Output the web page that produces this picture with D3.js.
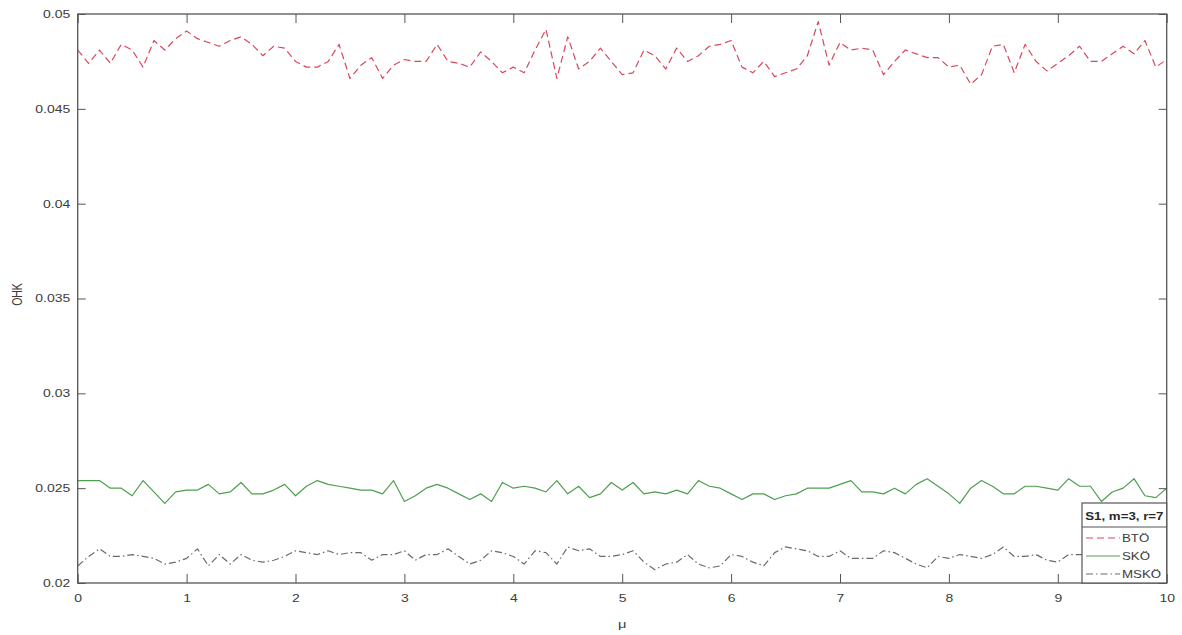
<!DOCTYPE html>
<html>
<head>
<meta charset="utf-8">
<script src="https://cdn.jsdelivr.net/npm/d3@7"></script>
<style>
  html, body { margin: 0; padding: 0; background: #fff; }
  svg { display: block; font-family: "Liberation Sans", Arial, sans-serif; }
</style>
</head>
<body>
<svg id="chart" width="1182" height="635"></svg>
<script>
// μ sampled from 0 to 10 in steps of 0.1
const mu = d3.range(101).map(i => i / 10);

const btoValues = [
  0.0481,0.0474,0.0481,0.0474,0.0484,0.0481,0.0472,0.0486,0.0481,0.0487,
  0.0491,0.0487,0.0485,0.0483,0.0486,0.0488,0.0484,0.0478,0.0483,0.0482,
  0.0475,0.0472,0.0472,0.0475,0.0484,0.0466,0.0473,0.0477,0.0466,0.0473,
  0.0476,0.0475,0.0475,0.0484,0.0475,0.0474,0.0472,0.0480,0.0475,0.0469,
  0.0472,0.0469,0.0481,0.0492,0.0466,0.0488,0.0471,0.0475,0.0482,0.0475,
  0.0468,0.0469,0.0481,0.0478,0.0471,0.0482,0.0475,0.0478,0.0483,0.0484,
  0.0486,0.0472,0.0469,0.0475,0.0467,0.0469,0.0471,0.0478,0.0496,0.0473,
  0.0485,0.0481,0.0482,0.0481,0.0468,0.0475,0.0481,0.0479,0.0477,0.0477,
  0.0472,0.0473,0.0463,0.0468,0.0483,0.0484,0.0469,0.0484,0.0475,0.0470,
  0.0474,0.0478,0.0483,0.0475,0.0475,0.0479,0.0483,0.0479,0.0486,0.0472,
  0.0476
];

const skoValues = [
  0.0254,0.0254,0.0254,0.0250,0.0250,0.0246,0.0254,0.0248,0.0242,0.0248,
  0.0249,0.0249,0.0252,0.0247,0.0248,0.0253,0.0247,0.0247,0.0249,0.0252,
  0.0246,0.0251,0.0254,0.0252,0.0251,0.0250,0.0249,0.0249,0.0247,0.0254,
  0.0243,0.0246,0.0250,0.0252,0.0250,0.0247,0.0244,0.0247,0.0243,0.0253,
  0.0250,0.0251,0.0250,0.0248,0.0254,0.0247,0.0251,0.0245,0.0247,0.0253,
  0.0249,0.0253,0.0247,0.0248,0.0247,0.0249,0.0247,0.0254,0.0251,0.0250,
  0.0247,0.0244,0.0247,0.0247,0.0244,0.0246,0.0247,0.0250,0.0250,0.0250,
  0.0252,0.0254,0.0248,0.0248,0.0247,0.0250,0.0247,0.0252,0.0255,0.0251,
  0.0247,0.0242,0.0250,0.0254,0.0251,0.0247,0.0247,0.0251,0.0251,0.0250,
  0.0249,0.0255,0.0251,0.0251,0.0243,0.0248,0.0250,0.0255,0.0246,0.0245,
  0.0250
];

const mskoValues = [
  0.0209,0.0214,0.0218,0.0214,0.0214,0.0215,0.0214,0.0213,0.0210,0.0211,
  0.0213,0.0218,0.0209,0.0215,0.0210,0.0215,0.0212,0.0211,0.0212,0.0214,
  0.0217,0.0216,0.0215,0.0217,0.0215,0.0216,0.0216,0.0212,0.0215,0.0215,
  0.0217,0.0212,0.0215,0.0215,0.0218,0.0214,0.0210,0.0212,0.0217,0.0216,
  0.0214,0.0210,0.0217,0.0216,0.0210,0.0219,0.0217,0.0218,0.0214,0.0214,
  0.0215,0.0217,0.0211,0.0207,0.0210,0.0211,0.0215,0.0210,0.0208,0.0209,
  0.0215,0.0214,0.0211,0.0209,0.0216,0.0219,0.0218,0.0217,0.0214,0.0214,
  0.0217,0.0213,0.0213,0.0213,0.0217,0.0216,0.0213,0.0210,0.0208,0.0214,
  0.0213,0.0215,0.0214,0.0213,0.0215,0.0219,0.0214,0.0214,0.0215,0.0212,
  0.0211,0.0215,0.0215,0.0215,0.0214,0.0216,0.0213,0.0215,0.0214,0.0216,
  0.0215
];

const xTickValues = [0, 1, 2, 3, 4, 5, 6, 7, 8, 9, 10];
const yTickValues = [0.02, 0.025, 0.03, 0.035, 0.04, 0.045, 0.05];
const yTickLabels = ["0.02", "0.025", "0.03", "0.035", "0.04", "0.045", "0.05"];

const seriesNames = ["BTÖ", "SKÖ", "MSKÖ"];
const legendTitle = "S1, m=3, r=7";
const xAxisTitle = "μ";
const yAxisTitle = "OHK";

const series = [
  { name: seriesNames[0], values: btoValues,  color: "#d8485c", dash: "7,4" },
  { name: seriesNames[1], values: skoValues,  color: "#4e9f4e", dash: null },
  { name: seriesNames[2], values: mskoValues, color: "#6a6a6a", dash: "7,3,1.5,3" }
];

// ---- layout ----
const plot = { left: 77.7, right: 1166.7, top: 14, bottom: 583 };
const stretch = "scale(1.33,1)";   // glyphs are drawn a bit wide
const axisColor = "#555";
const textColor = "#3c3c3c";
const fontSize = 10.5;

const svg = d3.select("#chart");
svg.append("rect").attr("width", 1182).attr("height", 635).attr("fill", "#fff");

const x = d3.scaleLinear().domain([0, 10]).range([plot.left, plot.right]);
const y = d3.scaleLinear().domain([0.02, 0.05]).range([plot.bottom, plot.top]);

svg.append("defs").append("clipPath").attr("id", "plotClip")
  .append("rect")
  .attr("x", plot.left).attr("y", plot.top)
  .attr("width", plot.right - plot.left).attr("height", plot.bottom - plot.top);

// ---- series lines ----
const line = d3.line()
  .x((d, i) => x(mu[i]))
  .y(d => y(d));

const linesG = svg.append("g").attr("clip-path", "url(#plotClip)");
series.forEach(s => {
  linesG.append("path")
    .datum(s.values)
    .attr("d", line)
    .attr("fill", "none")
    .attr("stroke", s.color)
    .attr("stroke-width", 1.2)
    .attr("stroke-linejoin", "round")
    .attr("stroke-dasharray", s.dash);
});

// ---- axes (ticks point inward on all four sides) ----
function styleAxis(g) {
  g.select(".domain").remove();
  g.selectAll(".tick line").attr("stroke", axisColor).attr("stroke-width", 1);
  g.selectAll(".tick text")
    .attr("fill", textColor)
    .style("font-size", fontSize + "px")
    .style("font-family", "'Liberation Sans', Arial, sans-serif");
}

const xBottom = svg.append("g")
  .attr("transform", `translate(0,${plot.bottom})`)
  .call(d3.axisBottom(x).tickValues(xTickValues).tickSizeInner(-9).tickSizeOuter(0).tickFormat(d3.format("d")))
  .call(styleAxis);
xBottom.selectAll(".tick text")
  .attr("y", 0)
  .attr("transform", `translate(0,12) ${stretch}`);

svg.append("g")
  .attr("transform", `translate(0,${plot.top})`)
  .call(d3.axisTop(x).tickValues(xTickValues).tickSizeInner(-9).tickSizeOuter(0).tickFormat(""))
  .call(styleAxis);

const yLeft = svg.append("g")
  .attr("transform", `translate(${plot.left},0)`)
  .call(d3.axisLeft(y).tickValues(yTickValues).tickSizeInner(-8).tickSizeOuter(0)
    .tickFormat((d, i) => yTickLabels[i]))
  .call(styleAxis);
yLeft.selectAll(".tick text")
  .attr("x", 0)
  .attr("transform", `translate(-7.5,0) ${stretch}`);

svg.append("g")
  .attr("transform", `translate(${plot.right},0)`)
  .call(d3.axisRight(y).tickValues(yTickValues).tickSizeInner(-8).tickSizeOuter(0).tickFormat(""))
  .call(styleAxis);

// box around the plot area
svg.append("rect")
  .attr("x", plot.left).attr("y", plot.top)
  .attr("width", plot.right - plot.left).attr("height", plot.bottom - plot.top)
  .attr("fill", "none").attr("stroke", axisColor).attr("stroke-width", 1.3);

// ---- axis titles ----
svg.append("text")
  .attr("transform", `translate(${(plot.left + plot.right) / 2},628) ${stretch}`)
  .attr("text-anchor", "middle")
  .attr("fill", textColor)
  .style("font-size", "11px")
  .text(xAxisTitle);

svg.append("text")
  .attr("transform", `translate(22,${(plot.top + plot.bottom) / 2 - 4}) rotate(-90) scale(1,1.33)`)
  .attr("text-anchor", "middle")
  .attr("fill", textColor)
  .style("font-size", fontSize + "px")
  .text(yAxisTitle);

// ---- legend ----
const lg = { x: 1082, y: 503, w: plot.right - 1082, h: plot.bottom - 503, sep: 527 };
const legend = svg.append("g");
legend.append("rect")
  .attr("x", lg.x).attr("y", lg.y).attr("width", lg.w).attr("height", lg.h)
  .attr("fill", "#fff").attr("stroke", axisColor).attr("stroke-width", 1.2);
legend.append("line")
  .attr("x1", lg.x).attr("x2", lg.x + lg.w)
  .attr("y1", lg.sep).attr("y2", lg.sep)
  .attr("stroke", axisColor).attr("stroke-width", 1.2);
legend.append("text")
  .attr("transform", `translate(${lg.x + lg.w / 2},519.5) ${stretch}`)
  .attr("text-anchor", "middle")
  .attr("fill", "#2a2a2a")
  .style("font-size", "10px")
  .style("font-weight", "bold")
  .text(legendTitle);

const entryY = [538, 556, 574];
series.forEach((s, i) => {
  legend.append("line")
    .attr("x1", lg.x + 4).attr("x2", lg.x + 38)
    .attr("y1", entryY[i]).attr("y2", entryY[i])
    .attr("stroke", s.color).attr("stroke-width", 1.2)
    .attr("stroke-dasharray", s.dash);
  legend.append("text")
    .attr("transform", `translate(${lg.x + 40},${entryY[i] + 3.6}) ${stretch}`)
    .attr("fill", textColor)
    .style("font-size", "10px")
    .text(s.name);
});
</script>
</body>
</html>
